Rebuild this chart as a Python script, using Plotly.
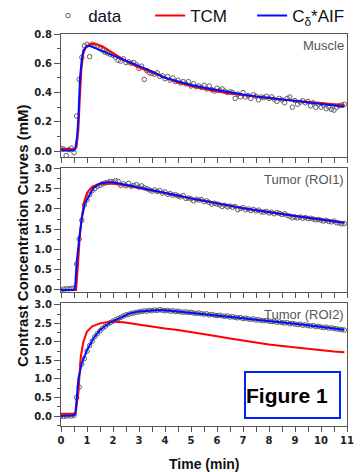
import plotly.graph_objects as go

# ---------------- data ----------------
t_data = [0.0, 0.1, 0.2, 0.3, 0.4, 0.5, 0.6, 0.7, 0.8, 0.9,
          1.0, 1.1, 1.2, 1.3, 1.4, 1.5, 1.6, 1.7, 1.8, 1.9,
          2.0, 2.1, 2.2, 2.3, 2.4, 2.5, 2.6, 2.7, 2.8, 2.9,
          3.0, 3.1, 3.2, 3.3, 3.4, 3.5, 3.6, 3.7, 3.8, 3.9,
          4.0, 4.1, 4.2, 4.3, 4.4, 4.5, 4.6, 4.7, 4.8, 4.9,
          5.0, 5.1, 5.2, 5.3, 5.4, 5.5, 5.6, 5.7, 5.8, 5.9,
          6.0, 6.1, 6.2, 6.3, 6.4, 6.5, 6.6, 6.7, 6.8, 6.9,
          7.0, 7.1, 7.2, 7.3, 7.4, 7.5, 7.6, 7.7, 7.8, 7.9,
          8.0, 8.1, 8.2, 8.3, 8.4, 8.5, 8.6, 8.7, 8.8, 8.9,
          9.0, 9.1, 9.2, 9.3, 9.4, 9.5, 9.6, 9.7, 9.8, 9.9,
          10.0, 10.1, 10.2, 10.3, 10.4, 10.5, 10.6, 10.7, 10.8, 10.9]

muscle_data = [0.02, 0.015, -0.03, 0.01, 0.02, -0.01, 0.24, 0.49, 0.64, 0.72,
               0.73, 0.645, 0.73, 0.72, 0.715, 0.70, 0.69, 0.675, 0.67, 0.66,
               0.655, 0.64, 0.62, 0.615, 0.63, 0.605, 0.61, 0.60, 0.605, 0.59,
               0.565, 0.58, 0.49, 0.55, 0.535, 0.53, 0.525, 0.535, 0.51, 0.515,
               0.495, 0.51, 0.485, 0.50, 0.475, 0.485, 0.465, 0.475, 0.46, 0.475,
               0.445, 0.46, 0.44, 0.445, 0.435, 0.45, 0.425, 0.445, 0.42, 0.41,
               0.43, 0.415, 0.425, 0.41, 0.40, 0.405, 0.40, 0.36, 0.39, 0.37,
               0.40, 0.37, 0.38, 0.36, 0.385, 0.375, 0.35, 0.37, 0.365, 0.375,
               0.36, 0.37, 0.355, 0.34, 0.36, 0.35, 0.33, 0.36, 0.37, 0.30,
               0.345, 0.32, 0.335, 0.345, 0.33, 0.34, 0.31, 0.33, 0.30, 0.32,
               0.30, 0.315, 0.29, 0.30, 0.285, 0.28, 0.30, 0.31, 0.315, 0.32]

roi1_data = [0.0, 0.02, 0.03, 0.03, 0.04, 0.05, 0.64, 1.26, 1.72, 2.10,
             2.22, 2.35, 2.45, 2.50, 2.56, 2.58, 2.62, 2.64, 2.66, 2.68,
             2.67, 2.70, 2.68, 2.58, 2.62, 2.57, 2.63, 2.56, 2.58, 2.60,
             2.54, 2.57, 2.52, 2.50, 2.47, 2.44, 2.47, 2.43, 2.45, 2.39,
             2.42, 2.36, 2.38, 2.34, 2.35, 2.32, 2.30, 2.33, 2.26, 2.27,
             2.25, 2.20, 2.24, 2.22, 2.23, 2.18, 2.20, 2.16, 2.12, 2.14,
             2.12, 2.10, 2.06, 2.09, 2.05, 2.07, 2.04, 2.06, 1.98, 2.01,
             2.03, 1.98, 2.00, 1.96, 1.99, 1.95, 1.97, 1.93, 1.92, 1.94,
             1.90, 1.92, 1.88, 1.91, 1.89, 1.86, 1.88, 1.84, 1.82, 1.78,
             1.80, 1.78, 1.80, 1.77, 1.79, 1.76, 1.77, 1.75, 1.73, 1.74,
             1.72, 1.70, 1.72, 1.69, 1.68, 1.70, 1.66, 1.65, 1.63, 1.64]

roi2_data = [0.0, -0.01, 0.0, 0.01, 0.0, 0.02, 0.50, 0.78, 1.40, 1.55,
             1.75, 1.90, 2.02, 2.14, 2.22, 2.30, 2.37, 2.42, 2.48, 2.52,
             2.56, 2.60, 2.63, 2.66, 2.70, 2.73, 2.74, 2.77, 2.78, 2.80,
             2.81, 2.82, 2.84, 2.83, 2.85, 2.84, 2.86, 2.85, 2.87, 2.85,
             2.84, 2.85, 2.83, 2.84, 2.82, 2.83, 2.81, 2.80, 2.81, 2.79,
             2.80, 2.78, 2.77, 2.78, 2.76, 2.75, 2.76, 2.73, 2.74, 2.72,
             2.71, 2.72, 2.70, 2.69, 2.70, 2.67, 2.68, 2.66, 2.65, 2.66,
             2.63, 2.64, 2.62, 2.61, 2.62, 2.59, 2.60, 2.58, 2.57, 2.58,
             2.56, 2.55, 2.56, 2.53, 2.54, 2.52, 2.51, 2.52, 2.49, 2.50,
             2.48, 2.47, 2.48, 2.45, 2.46, 2.44, 2.43, 2.44, 2.41, 2.42,
             2.40, 2.39, 2.40, 2.37, 2.38, 2.36, 2.35, 2.34, 2.33, 2.32]

# TCM fits (red)
t_tcm_m = [0, 0.55, 0.6, 0.67, 0.72, 0.78, 0.85, 0.95, 1.1, 1.3, 1.6, 2.0, 2.5, 3.0, 3.5,
           4.0, 4.5, 5.0, 5.5, 6.0, 6.5, 7.0, 7.5, 8.0, 8.5, 9.0, 9.5, 10.0, 10.5, 10.9]
tcm_m = [0.015, 0.015, 0.03, 0.15, 0.35, 0.55, 0.66, 0.71, 0.73, 0.735, 0.715, 0.67, 0.615,
         0.57, 0.535, 0.50, 0.468, 0.444, 0.424, 0.408, 0.394, 0.382, 0.371, 0.361, 0.352,
         0.343, 0.335, 0.327, 0.32, 0.315]

t_tcm_1 = [0, 0.58, 0.65, 0.72, 0.8, 0.9, 1.0, 1.2, 1.5, 1.8, 2.0, 2.5, 3.0, 3.5, 4.0,
           4.5, 5.0, 5.5, 6.0, 6.5, 7.0, 7.5, 8.0, 8.5, 9.0, 9.5, 10.0, 10.5, 10.9]
tcm_1 = [0.0, 0.0, 0.6, 1.3, 1.8, 2.2, 2.4, 2.55, 2.62, 2.63, 2.62, 2.58, 2.52, 2.45, 2.39,
         2.32, 2.26, 2.19, 2.13, 2.07, 2.02, 1.97, 1.92, 1.87, 1.83, 1.78, 1.74, 1.70, 1.66]

t_tcm_2 = [0, 0.55, 0.58, 0.67, 0.76, 0.86, 1.0, 1.2, 1.5, 1.9, 2.4, 3.0, 3.5, 4.0, 4.5,
           5.0, 5.5, 6.0, 6.5, 7.0, 7.5, 8.0, 8.5, 9.0, 9.5, 10.0, 10.5, 10.9]
tcm_2 = [0.06, 0.06, 0.15, 0.65, 1.6, 2.0, 2.28, 2.42, 2.50, 2.55, 2.53, 2.46, 2.41, 2.36,
         2.32, 2.27, 2.22, 2.15, 2.09, 2.03, 1.98, 1.93, 1.89, 1.85, 1.81, 1.77, 1.74, 1.72]

# C_delta * AIF fits (blue)
t_fit_m = [0, 0.5, 0.55, 0.62, 0.67, 0.73, 0.8, 0.86, 1.0, 1.1, 1.5, 2.0, 2.5, 3.0, 3.5,
           4.0, 4.5, 5.0, 5.5, 6.0, 6.5, 7.0, 7.5, 8.0, 8.5, 9.0, 9.5, 10.0, 10.5, 10.9]
fit_m = [0.005, 0.005, 0.02, 0.1, 0.24, 0.5, 0.63, 0.69, 0.715, 0.72, 0.69, 0.655, 0.615,
         0.58, 0.545, 0.50, 0.474, 0.452, 0.433, 0.416, 0.40, 0.387, 0.374, 0.363, 0.352,
         0.342, 0.332, 0.322, 0.311, 0.303]

t_fit_1 = [0, 0.5, 0.54, 0.6, 0.7, 0.8, 0.92, 1.05, 1.24, 1.5, 1.76, 2.0, 2.5, 3.0, 3.5,
           4.0, 4.5, 5.0, 5.5, 6.0, 6.5, 7.0, 7.5, 8.0, 8.5, 9.0, 9.5, 10.0, 10.5, 10.9]
fit_1 = [0.0, 0.0, 0.05, 0.66, 1.28, 1.77, 2.14, 2.29, 2.51, 2.63, 2.66, 2.66, 2.60, 2.53,
         2.46, 2.40, 2.33, 2.26, 2.20, 2.13, 2.07, 2.02, 1.97, 1.92, 1.87, 1.83, 1.78, 1.74,
         1.70, 1.66]

t_fit_2 = [0, 0.5, 0.55, 0.6, 0.67, 0.8, 1.0, 1.25, 1.5, 1.9, 2.3, 2.65, 3.0, 3.5, 3.8,
           4.2, 4.5, 5.0, 5.5, 6.0, 6.5, 7.0, 7.5, 8.0, 8.5, 9.0, 9.5, 10.0, 10.5, 10.9]
fit_2 = [0.0, 0.02, 0.05, 0.55, 1.01, 1.42, 1.78, 2.10, 2.32, 2.53, 2.66, 2.77, 2.82, 2.85,
         2.86, 2.84, 2.82, 2.79, 2.76, 2.72, 2.68, 2.64, 2.60, 2.57, 2.53, 2.49, 2.45, 2.41,
         2.37, 2.33]

panel_labels = ["Muscle", "Tumor (ROI1)", "Tumor (ROI2)"]
x_ticks = [0, 1, 2, 3, 4, 5, 6, 7, 8, 9, 10, 11]

# ---------------- figure ----------------
RED = "#ff0000"
BLUE = "#0010ff"
AX = "#555555"
TICKFONT = dict(family="DejaVu Sans", size=10, color="#222222", weight="bold")

fig = go.Figure()
panels = [
    (muscle_data, t_tcm_m, tcm_m, t_fit_m, fit_m),
    (roi1_data, t_tcm_1, tcm_1, t_fit_1, fit_1),
    (roi2_data, t_tcm_2, tcm_2, t_fit_2, fit_2),
]
for i, (d, tt, tc, tf, fv) in enumerate(panels):
    xa = "x" if i == 0 else f"x{i+1}"
    ya = "y" if i == 0 else f"y{i+1}"
    first = i == 0
    fig.add_trace(go.Scatter(x=t_data, y=d, mode="markers", name="data",
                             marker=dict(symbol="circle-open", size=4.5, color="#606060",
                                         line=dict(width=1)),
                             xaxis=xa, yaxis=ya, showlegend=first, legendrank=1))
    fig.add_trace(go.Scatter(x=tt, y=tc, mode="lines", name="TCM",
                             line=dict(color=RED, width=2),
                             xaxis=xa, yaxis=ya, showlegend=first, legendrank=2))
    fig.add_trace(go.Scatter(x=tf, y=fv, mode="lines", name="C<sub>δ</sub>*AIF",
                             line=dict(color=BLUE, width=2),
                             xaxis=xa, yaxis=ya, showlegend=first, legendrank=3))

T, B = 34, 46
H = 472
area = H - T - B
def dom(top_px, bot_px):
    return [1 - (bot_px - T) / area, 1 - (top_px - T) / area]

ydoms = [dom(34, 157), dom(168, 292), dom(303, 426)]
yranges = [[-0.04, 0.80], [-0.05, 3.01], [-0.27, 3.05]]
ydticks = [0.2, 0.5, 0.5]
yminor = [0.1, 0.25, 0.25]

layout = dict(
    width=363, height=472,
    margin=dict(l=61, r=16, t=T, b=B, autoexpand=False),
    paper_bgcolor="white", plot_bgcolor="white",
    showlegend=True,
    legend=dict(orientation="h", x=-0.045, xanchor="left", y=1.0, yanchor="bottom",
                font=dict(family="Liberation Sans", size=17, color="#111111"),
                bgcolor="rgba(0,0,0,0)", entrywidth=57, traceorder="normal"),
)
for i in range(3):
    xk = "xaxis" if i == 0 else f"xaxis{i+1}"
    yk = "yaxis" if i == 0 else f"yaxis{i+1}"
    ya = "y" if i == 0 else f"y{i+1}"
    xa = "x" if i == 0 else f"x{i+1}"
    layout[xk] = dict(domain=[0, 1], anchor=ya, range=[0, 11],
                      tickvals=x_ticks, showticklabels=(i == 2),
                      ticks="outside", ticklen=5, tickwidth=1, tickcolor=AX,
                      minor=dict(dtick=0.5, ticks="outside", ticklen=5, tickcolor=AX),
                      showline=True, linecolor=AX, linewidth=1, mirror=True,
                      showgrid=False, zeroline=False, tickfont=TICKFONT)
    layout[yk] = dict(domain=ydoms[i], anchor=xa, range=yranges[i],
                      dtick=ydticks[i], tick0=0, tickformat=".1f",
                      ticks="outside", ticklen=6, tickwidth=1, tickcolor=AX,
                      minor=dict(dtick=yminor[i], tick0=0, ticks="outside", ticklen=3,
                                 tickcolor=AX),
                      showline=True, linecolor=AX, linewidth=1, mirror=True,
                      showgrid=False, zeroline=False, tickfont=TICKFONT)
fig.update_layout(**layout)

annotations = []
for i, lab in enumerate(panel_labels):
    xa = "x" if i == 0 else f"x{i+1}"
    ya = "y" if i == 0 else f"y{i+1}"
    annotations.append(dict(text=lab, xref=f"{xa} domain", yref=f"{ya} domain",
                            x=1, y=1, xanchor="right", yanchor="top", xshift=-1, yshift=-2,
                            showarrow=False,
                            font=dict(family="Liberation Sans", size=13, color="#555555")))
annotations.append(dict(text="Contrast Concentration Curves (mM)", textangle=-90,
                        xref="paper", yref="paper", x=0, y=0.5, xanchor="center",
                        yanchor="middle", xshift=-39, yshift=-6,
                        showarrow=False,
                        font=dict(family="Liberation Sans", size=15, color="#111111",
                                  weight="bold")))
annotations.append(dict(text="Time (min)", xref="paper", yref="paper", x=0.5, y=0,
                        xanchor="center", yanchor="middle",
                        yshift=-38, showarrow=False,
                        font=dict(family="Liberation Sans", size=14, color="#111111",
                                  weight="bold")))
annotations.append(dict(text="Figure 1", xref="x3 domain", yref="y3 domain",
                        x=0.809, y=0.252, xanchor="center", yanchor="middle",
                        width=93, height=44, align="left", borderpad=0,
                        bordercolor="#0020ff", borderwidth=2, showarrow=False,
                        font=dict(family="Liberation Sans", size=21, color="#000000",
                                  weight="bold")))
fig.update_layout(annotations=annotations)

fig.write_html("out.html",
               config={"displayModeBar": False},
               post_script="document.body.style.margin='0px';"
                           "document.body.style.overflow='hidden';")
